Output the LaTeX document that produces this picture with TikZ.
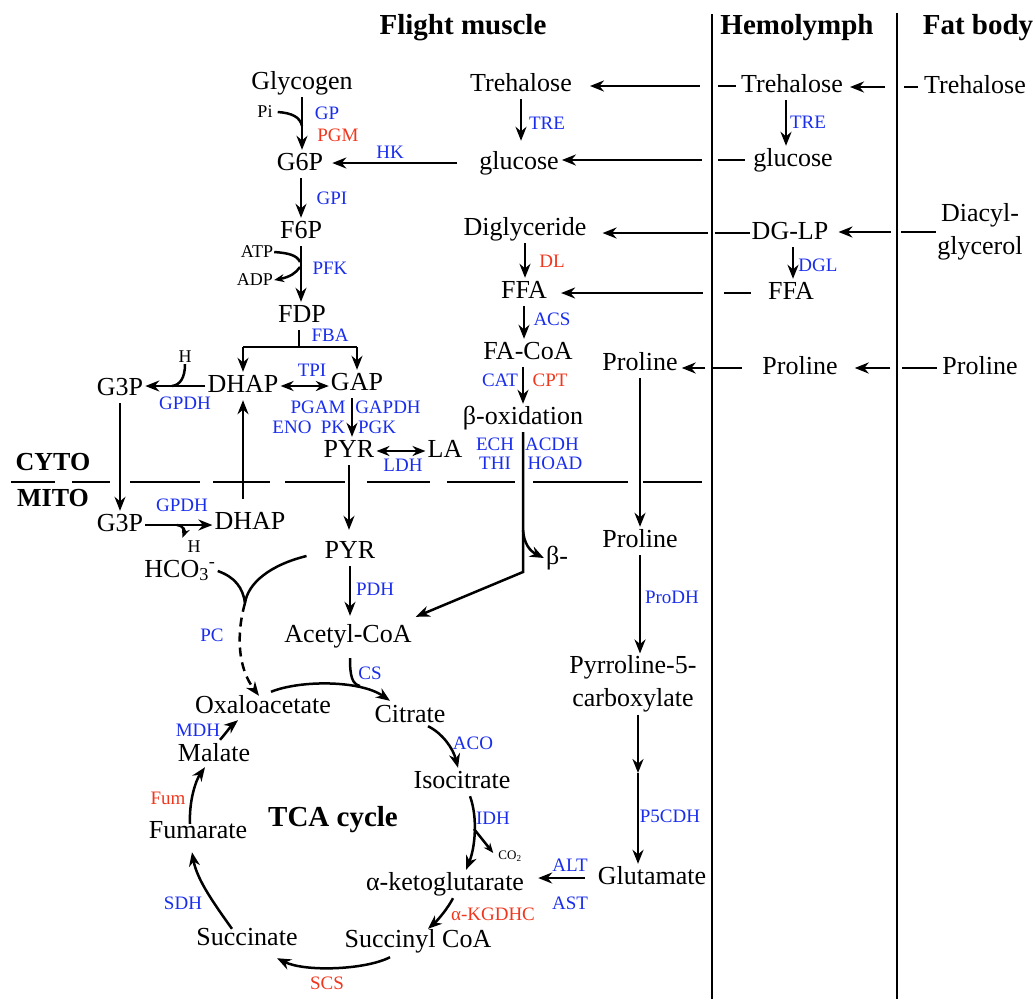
\documentclass[tikz,border=0pt]{standalone}
\usepackage{fontspec}
\setmainfont{Liberation Serif}
\usetikzlibrary{arrows.meta}
\definecolor{eblue}{RGB}{25,45,235}
\definecolor{ered}{RGB}{240,55,30}
\begin{document}
\begin{tikzpicture}[x=1pt,y=-1pt,
  lab/.style={font=\fontsize{26}{33}\selectfont, inner sep=2pt},
  txt/.style={lab, text height=18pt, text depth=6pt},
  enz/.style={font=\fontsize{19}{22}\selectfont, text=eblue, inner sep=1pt},
  enzr/.style={enz, text=ered},
  sm/.style={font=\fontsize{18}{20}\selectfont, inner sep=1pt},
  cotext/.style={font=\fontsize{13}{15}\selectfont, inner sep=1pt},
  hdr/.style={font=\bfseries\fontsize{29}{32}\selectfont, inner sep=0pt},
  hdrs/.style={font=\bfseries\fontsize{26}{30}\selectfont, inner sep=0pt},
  ln/.style={line width=2.5pt},
  arr/.style={ln, -{Stealth[length=14pt,width=11pt]}},
  arrs/.style={ln, -{Stealth[length=10pt,width=8pt]}},
  darr/.style={ln, {Stealth[length=13pt,width=10pt]}-{Stealth[length=13pt,width=10pt]}},
  div/.style={line width=2.2pt}
]
\useasboundingbox (0,0) rectangle (1035,999);

% headers and dividers
\node[hdr] (hfm) at (463,28) {Flight muscle};
\node[hdr] (hhl) at (797,28) {Hemolymph};
\node[hdr] (hfb) at (978,28) {Fat body};
\draw[div] (712,14) -- (712,999);
\draw[div] (897,13) -- (897,999);

% flight muscle metabolites
\node[txt] (glycogen) at (302,83) {Glycogen};
\node[txt] (g6p) at (300,164) {G6P};
\node[txt] (f6p) at (301,232) {F6P};
\node[txt] (fdp) at (302,316) {FDP};
\node[txt] (dhapc) at (243,386) {DHAP};
\node[txt] (g3pc) at (120,389) {G3P};
\node[txt] (gap) at (357,384) {GAP};
\node[txt] (pyrc) at (349,451) {PYR};
\node[txt] (la) at (445,451) {LA};
\node[txt] (treF) at (521,85) {Trehalose};
\node[txt] (gluF) at (519,163) {glucose};
\node[txt] (dgF) at (525,229) {Diglyceride};
\node[txt] (ffaF) at (524,292) {FFA};
\node[txt] (facoa) at (528,353) {FA-CoA};
\node[txt] (box) at (523,418) {β-oxidation};
\node[txt] (proC) at (640,364) {Proline};
\node[txt] (g3pm) at (120,525) {G3P};
\node[txt] (dhapm) at (250,523) {DHAP};
\node[txt] (hco3) at (180,571) {HCO\textsubscript{3}\textsuperscript{-}};
\node[txt] (pyrm) at (350,552) {PYR};
\node[txt] (bminus) at (557,558) {β-};
\node[txt] (acoa) at (348,636) {Acetyl-CoA};
\node[txt] (proM) at (640,541) {Proline};
\node[lab, align=center] (p5c) at (633,684) {Pyrroline-5-\\carboxylate};
\node[txt] (glu) at (652,878) {Glutamate};
\node[txt] (oaa) at (263,707) {Oxaloacetate};
\node[txt] (cit) at (410,716) {Citrate};
\node[txt] (icit) at (462,782) {Isocitrate};
\node[txt] (akg) at (445,884) {α-ketoglutarate};
\node[txt] (succoa) at (418,941) {Succinyl CoA};
\node[txt] (succ) at (247,939) {Succinate};
\node[txt] (fum) at (198,832) {Fumarate};
\node[txt] (mal) at (214,755) {Malate};
\node[hdr] (tca) at (333,820) {TCA cycle};
\node[hdrs] (cyto) at (53,462) {CYTO};
\node[hdrs] (mito) at (53,498) {MITO};

% hemolymph and fat body
\node[txt] (treH) at (792,86) {Trehalose};
\node[txt] (gluH) at (793,160) {glucose};
\node[txt] (dglp) at (790,233) {DG-LP};
\node[txt] (ffaH) at (791,293) {FFA};
\node[txt] (proH) at (800,368) {Proline};
\node[txt] (treB) at (975,87) {Trehalose};
\node[lab, align=center] (dag) at (980,232) {Diacyl-\\glycerol};
\node[txt] (proB) at (980,368) {Proline};

% small species
\node[sm] (pi) at (265,112) {Pi};
\node[sm] (atp) at (257,252) {ATP};
\node[sm] (adp) at (255,280) {ADP};
\node[sm] (hc) at (185,357) {H};
\node[sm] (hm) at (194,547) {H};
\node[cotext] (co2) at (510,856) {CO\textsubscript{2}};

% enzymes
\node[enz] (eGP) at (327,113) {GP};
\node[enzr] (ePGM) at (338,135) {PGM};
\node[enz] (eHK) at (390,152) {HK};
\node[enz] (eGPI) at (332,198) {GPI};
\node[enz] (ePFK) at (330,268) {PFK};
\node[enz] (eFBA) at (330,335) {FBA};
\node[enz] (eTPI) at (312,370) {TPI};
\node[enz] (eGPDHc) at (185,403) {GPDH};
\node[enz] (ePGAM) at (318,407) {PGAM};
\node[enz] (eGAPDH) at (388,407) {GAPDH};
\node[enz] (eENO) at (292,427) {ENO};
\node[enz] (ePK) at (333,427) {PK};
\node[enz] (ePGK) at (377,427) {PGK};
\node[enz] (eLDH) at (403,465) {LDH};
\node[enz] (eTREf) at (547,123) {TRE};
\node[enzr] (eDL) at (552,261) {DL};
\node[enz] (eACS) at (552,319) {ACS};
\node[enz] (eCAT) at (500,380) {CAT};
\node[enzr] (eCPT) at (550,380) {CPT};
\node[enz] (eECH) at (495,444) {ECH};
\node[enz] (eACDH) at (552,444) {ACDH};
\node[enz] (eTHI) at (495,463) {THI};
\node[enz] (eHOAD) at (555,463) {HOAD};
\node[enz] (eGPDHm) at (182,505) {GPDH};
\node[enz] (ePC) at (212,635) {PC};
\node[enz] (ePDH) at (375,589) {PDH};
\node[enz] (eCS) at (370,673) {CS};
\node[enz] (eProDH) at (672,597) {ProDH};
\node[enz] (eP5CDH) at (670,816) {P5CDH};
\node[enz] (eACO) at (473,743) {ACO};
\node[enz] (eIDH) at (493,818) {IDH};
\node[enz] (eALT) at (570,865) {ALT};
\node[enz] (eAST) at (570,903) {AST};
\node[enzr] (eKGDHC) at (493,914) {α-KGDHC};
\node[enzr] (eSCS) at (327,983) {SCS};
\node[enz] (eSDH) at (183,903) {SDH};
\node[enzr] (eFum) at (168,798) {Fum};
\node[enz] (eMDH) at (198,730) {MDH};
\node[enz] (eTREh) at (808,122) {TRE};
\node[enz] (eDGL) at (818,265) {DGL};

% cyto / mito boundary
\foreach \a/\b in {11/55,72/110,130/200,213/270,285/345,367/430,447/515,533/628,643/702}
  \draw[ln] (\a,482) -- (\b,482);

% glycolysis
\coordinate (piJ) at (302,126);
\draw[arr] (glycogen.south) -- (glycogen.south |- g6p.north);
\draw[ln] ([xshift=4pt]pi.east) .. controls (292,113) and (300,117) .. (piJ);
\draw[arr, shorten >=7pt] ([xshift=-20pt]gluF.west) -- (g6p.east |- gluF.west);
\draw[arr] (g6p.south -| f6p) -- (f6p.north);
\draw[arr] (f6p.south) -- (f6p.south |- fdp.north);
\coordinate (atpJ) at (300,262);
\coordinate (adpJ) at (300,267);
\draw[ln] (atp.east) .. controls (288,253) and (297,255) .. (atpJ);
\draw[arrs] (adpJ) .. controls (296,273) and (290,277) .. (adp.east);
\coordinate (fb) at (299,347);
\draw[ln] (fdp.south -| fb) -- (fb);
\draw[ln] (fb -| dhapc) -- (fb -| gap);
\draw[arr] (fb -| dhapc) -- (dhapc.north);
\draw[arr] (fb -| gap) -- (gap.north);
\draw[darr] (dhapc.east) -- (gap.west |- dhapc.east);
\draw[arr] (dhapc.west) -- (g3pc.east |- dhapc.west);
\coordinate (hcJ) at (172,386);
\draw[ln] (hc.south) .. controls (185,378) and (180,385) .. (hcJ);
\draw[arr] ([xshift=-5pt]gap.south) -- ([xshift=-5pt]gap.south |- pyrc.north);
\draw[darr] (pyrc.east) -- (la.west |- pyrc.east);

% glycerol-3-phosphate shuttle
\draw[arr] (g3pc.south) -- (g3pc.south |- g3pm.north);
\draw[arr, shorten <=10pt] (dhapc.south |- dhapm.north) -- (dhapc.south);
\draw[arr] (g3pm.east) -- (dhapm.west |- g3pm.east);
\coordinate (hmJ) at (177,525);
\draw[arrs] (hmJ) .. controls (184,526) and (185,531) .. ([shift={(-4,-2)}]hm.north west);

% pyruvate
\draw[arr, shorten >=8pt] (pyrc.south) -- (pyrc.south |- pyrm.north);
\draw[arr, shorten >=6pt] (pyrm.south) -- (pyrm.south |- acoa.north);
\coordinate (pcj) at (245,603);
\draw[ln] (hco3.east) .. controls (235,577) and (243,588) .. (pcj);
\draw[ln] ([shift={(-16,4)}]pyrm.west) .. controls (270,565) and (248,583) .. (pcj);
\draw[arr, dash pattern=on 9pt off 6pt] (pcj) .. controls (236,635) and (238,668) .. ([shift={(-4,3)}]oaa.north);

% lipid
\draw[arr, shorten >=8pt] (treF.south) -- (treF.south |- gluF.north);
\draw[arr] (dgF.south) -- (dgF.south |- ffaF.north);
\draw[arr] (ffaF.south) -- (ffaF.south |- facoa.north);
\draw[arr] (facoa.south -| box) -- (box.north);
\coordinate (bk) at (523,572);
\coordinate (bbr) at (523,530);
\draw[arr] (box.south) -- (bk) -- ([shift={(2,-5)}]acoa.north east);
\draw[arr] (bbr) .. controls (524,544) and (530,551) .. (bminus.west);

% proline
\draw[arr] (proC.south) -- (proC.south |- proM.north);
\draw[arr] (proM.south) -- (proM.south |- p5c.north);
\coordinate (pmid) at (638,773);
\draw[arr] (p5c.south -| pmid) -- (pmid);
\draw[arr] (pmid) -- (pmid |- glu.north);
\draw[arr, shorten >=12pt] ([xshift=-11pt]glu.west) -- (akg.east |- glu.west);

% TCA cycle
\coordinate (csj) at (360,686);
\draw[arr] ([shift={(8,-1)}]oaa.north) .. controls (300,680) and (360,680) .. ([shift={(-20,-1)}]cit.north);
\draw[ln] ([shift={(2,8)}]acoa.south) .. controls (350,676) and (352,684) .. (csj);
\draw[arr] ([shift={(18,-4)}]cit.south) .. controls (442,733) and (453,748) .. ([xshift=-4pt]icit.north);
\draw[arr] ([xshift=8pt]icit.south) .. controls (478,818) and (475,848) .. ([xshift=21pt]akg.north);
\coordinate (co2j) at (474,829);
\draw[arrs] (co2j) -- ([shift={(-4,-3)}]co2.west);
\draw[arr] ([xshift=8pt]akg.south) .. controls (448,908) and (438,920) .. ([shift={(10,2)}]succoa.north);
\draw[arr] ([shift={(-28,2)}]succoa.south) .. controls (365,970) and (305,972) .. ([shift={(30,5)}]succ.south);
\draw[arr] ([shift={(-15,4)}]succ.north) .. controls (215,905) and (197,880) .. ([shift={(-6,6)}]fum.south);
\draw[arr] ([shift={(-8,6)}]fum.north) .. controls (189,800) and (196,780) .. ([shift={(-9,-2)}]mal.south);
\draw[arr] ([shift={(6,-1)}]mal.north) .. controls (226,733) and (231,726) .. ([shift={(-25,-1)}]oaa.south);

% transport hemolymph -> flight muscle
\draw[arr, shorten >=16pt] ([xshift=-39pt]treH.west) -- (treF.east |- treH.west);
\draw[arr, shorten >=1pt] ([xshift=-49pt]gluH.west) -- (gluF.east |- gluH.west);
\draw[arr, shorten >=14pt] ([xshift=-42pt]dglp.west) -- (dgF.east |- dglp.west);
\draw[arr, shorten >=12pt] ([xshift=-63pt]ffaH.west) -- (ffaF.east |- ffaH.west);
\draw[arr, shorten >=2pt] ([xshift=-55pt]proH.west) -- (proC.east |- proH.west);
% fat body -> hemolymph
\draw[arr, shorten >=5pt] ([xshift=-37pt]treB.west) -- (treH.east |- treB.west);
\draw[arr, shorten >=8pt] ([xshift=-44pt]dag.west) -- (dglp.east |- dag.west);
\draw[arr, shorten >=15pt] ([xshift=-50pt]proB.west) -- (proH.east |- proB.west);
% hemolymph reactions
\draw[arr] ([xshift=-6pt]treH.south) -- ([xshift=-6pt]treH.south |- gluH.north);
\draw[arr] ([xshift=3pt]dglp.south) -- ([xshift=3pt]dglp.south |- ffaH.north);
% short leader dashes
\draw[ln] ([xshift=-21pt]treH.west) -- ([xshift=-3pt]treH.west);
\draw[ln] ([xshift=-33pt]gluH.west) -- ([xshift=-6pt]gluH.west);
\draw[ln] ([xshift=-35pt]dglp.west) -- (dglp.west);
\draw[ln] ([xshift=-42pt]ffaH.west) -- ([xshift=-15pt]ffaH.west);
\draw[ln] ([xshift=-47pt]proH.west) -- ([xshift=-18pt]proH.west);
\draw[ln] ([xshift=-18pt]treB.west) -- ([xshift=-4pt]treB.west);
\draw[ln] ([xshift=-34pt]dag.west) -- ([xshift=1pt]dag.west);
\draw[ln] ([xshift=-38pt]proB.west) -- ([xshift=-3pt]proB.west);
\end{tikzpicture}
\end{document}
